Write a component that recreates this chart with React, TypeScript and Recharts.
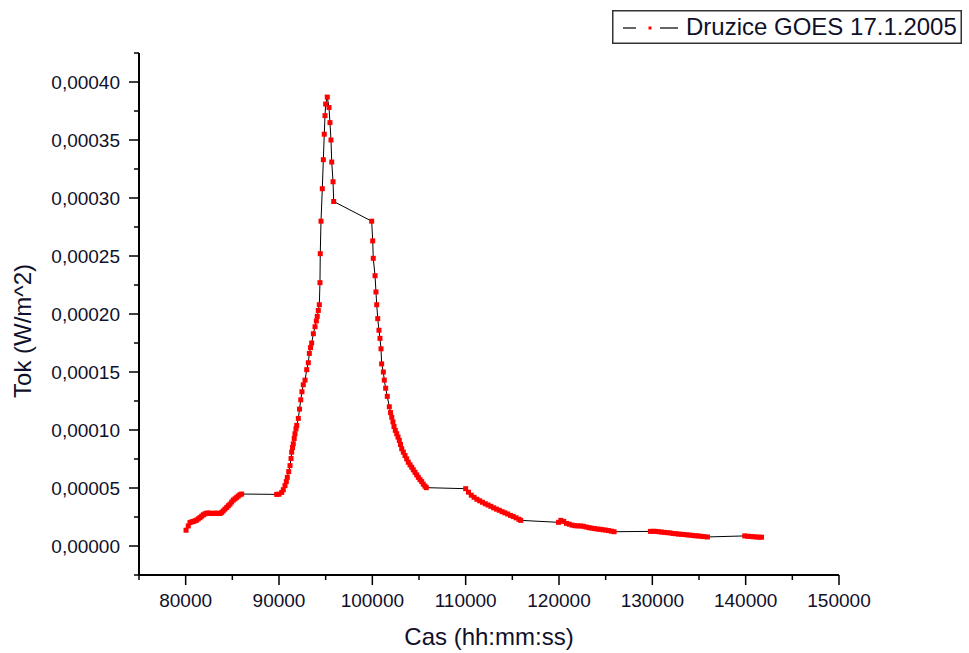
import { LineChart, Line, XAxis, YAxis, Legend, Label } from 'recharts';

const FONT = '"Liberation Sans", Arial, sans-serif';
const TEXT = '#10102a';
const MARKER = '#ff0000';

// tick positions (major ones get a label)
const xTicks = [75000, 80000, 85000, 90000, 95000, 100000, 105000, 110000, 115000, 120000, 125000, 130000, 135000, 140000, 145000, 150000];
const yTicks = [
  -0.000025, 0, 0.000025, 0.00005, 0.000075, 0.0001, 0.000125, 0.00015, 0.000175, 0.0002,
  0.000225, 0.00025, 0.000275, 0.0003, 0.000325, 0.00035, 0.000375, 0.0004, 0.000425,
];

// [cas (s), tok (W/m^2)], one array per run of samples
const preFlare: [number, number][] = [
  [80040, 1.36e-5], [80280, 1.73e-5], [80460, 2.02e-5], [80650, 2.08e-5], [80820, 2.11e-5],
  [81000, 2.17e-5], [81180, 2.23e-5], [81350, 2.34e-5], [81540, 2.45e-5], [81720, 2.57e-5],
  [81890, 2.69e-5], [82070, 2.77e-5], [82250, 2.83e-5], [82430, 2.83e-5], [82610, 2.83e-5],
  [82790, 2.8e-5], [82960, 2.8e-5], [83140, 2.83e-5], [83330, 2.83e-5], [83500, 2.8e-5],
  [83680, 2.8e-5], [83860, 2.9e-5], [84030, 3.03e-5], [84210, 3.18e-5], [84400, 3.32e-5],
  [84570, 3.47e-5], [84750, 3.61e-5], [84930, 3.79e-5], [85100, 3.96e-5], [85290, 4.07e-5],
  [85470, 4.19e-5], [85640, 4.31e-5], [85820, 4.42e-5], [86000, 4.48e-5],
];

const rise: [number, number][] = [
  [89750, 4.45e-5], [90000, 4.46e-5], [90290, 4.62e-5], [90460, 4.85e-5], [90640, 5.2e-5],
  [90780, 5.55e-5], [90890, 5.92e-5], [91040, 6.41e-5], [91180, 6.93e-5], [91290, 7.54e-5],
  [91360, 8.09e-5], [91450, 8.49e-5], [91530, 8.81e-5], [91630, 9.27e-5], [91710, 9.68e-5],
  [91820, 1.01e-4], [91900, 1.04e-4], [92070, 1.1e-4], [92200, 1.18e-4], [92330, 1.26e-4],
  [92460, 1.33e-4], [92600, 1.39e-4], [92790, 1.43e-4], [92970, 1.52e-4], [93140, 1.58e-4],
  [93250, 1.66e-4], [93380, 1.71e-4], [93500, 1.75e-4], [93680, 1.83e-4], [93860, 1.89e-4],
  [94000, 1.94e-4], [94100, 1.98e-4], [94210, 2.03e-4], [94320, 2.08e-4], [94390, 2.27e-4],
  [94420, 2.52e-4], [94500, 2.8e-4], [94640, 3.08e-4], [94750, 3.33e-4], [94850, 3.55e-4],
  [94930, 3.71e-4], [95000, 3.81e-4], [95170, 3.87e-4], [95360, 3.78e-4], [95460, 3.65e-4],
  [95570, 3.5e-4], [95650, 3.31e-4], [95790, 3.14e-4], [95860, 2.97e-4],
];

const decay: [number, number][] = [
  [99930, 2.8e-4], [100040, 2.63e-4], [100100, 2.48e-4], [100290, 2.33e-4], [100390, 2.19e-4],
  [100470, 2.08e-4], [100580, 1.96e-4], [100710, 1.86e-4], [100820, 1.79e-4], [100930, 1.7e-4],
  [101000, 1.57e-4], [101180, 1.5e-4], [101280, 1.43e-4], [101430, 1.36e-4], [101600, 1.29e-4],
  [101820, 1.2e-4], [101950, 1.15e-4], [102080, 1.11e-4], [102210, 1.07e-4], [102320, 1.03e-4],
  [102460, 9.97e-5], [102610, 9.68e-5], [102750, 9.39e-5], [102890, 9.1e-5], [103020, 8.75e-5],
  [103150, 8.38e-5], [103320, 8.09e-5], [103500, 7.8e-5], [103680, 7.51e-5], [103850, 7.22e-5],
  [104040, 7.0e-5], [104220, 6.79e-5], [104390, 6.57e-5], [104570, 6.35e-5], [104750, 6.13e-5],
  [104930, 5.92e-5], [105110, 5.72e-5], [105290, 5.55e-5], [105460, 5.33e-5], [105640, 5.16e-5],
  [105780, 5.03e-5],
];

const tail1: [number, number][] = [
  [110000, 4.94e-5], [110300, 4.64e-5], [110600, 4.38e-5], [110900, 4.2e-5], [111200, 4.03e-5],
  [111500, 3.9e-5], [111800, 3.77e-5], [112100, 3.64e-5], [112400, 3.53e-5], [112700, 3.42e-5],
  [113000, 3.29e-5], [113300, 3.18e-5], [113600, 3.08e-5], [113900, 2.96e-5], [114200, 2.86e-5],
  [114500, 2.76e-5], [114800, 2.64e-5], [115100, 2.54e-5], [115400, 2.43e-5], [115700, 2.3e-5],
  [115900, 2.21e-5],
];

const tail2: [number, number][] = [
  [119950, 2.04e-5], [120200, 2.21e-5], [120500, 2.12e-5], [120800, 1.95e-5], [121100, 1.88e-5],
  [121400, 1.8e-5], [121700, 1.75e-5], [122000, 1.73e-5], [122300, 1.73e-5], [122600, 1.7e-5],
  [122900, 1.64e-5], [123200, 1.58e-5], [123500, 1.54e-5], [123800, 1.5e-5], [124100, 1.46e-5],
  [124400, 1.44e-5], [124700, 1.4e-5], [125000, 1.37e-5], [125300, 1.33e-5], [125600, 1.28e-5],
  [125900, 1.23e-5],
];

const tail3: [number, number][] = [
  [129800, 1.26e-5], [130100, 1.27e-5], [130400, 1.26e-5], [130700, 1.23e-5], [131000, 1.2e-5],
  [131300, 1.17e-5], [131600, 1.15e-5], [131900, 1.13e-5], [132200, 1.08e-5], [132500, 1.06e-5],
  [132800, 1.03e-5], [133100, 1.01e-5], [133400, 9.9e-6], [133700, 9.6e-6], [134000, 9.4e-6],
  [134300, 9.1e-6], [134600, 8.8e-6], [134900, 8.7e-6], [135200, 8.4e-6], [135500, 8.1e-6],
  [135900, 7.8e-6],
];

const tail4: [number, number][] = [
  [139900, 8.7e-6], [140200, 8.4e-6], [140500, 8.2e-6], [140800, 8.0e-6], [141100, 7.8e-6],
  [141400, 7.6e-6], [141700, 7.6e-6],
];

const data = [...preFlare, ...rise, ...decay, ...tail1, ...tail2, ...tail3, ...tail4].map(([cas, tok]) => ({ cas, tok }));

function XTick({ x, y, payload }: any) {
  const v = payload.value as number;
  const major = v % 10000 === 0;
  return (
    <g>
      <line x1={x} x2={x} y1={y} y2={y + (major ? 10 : 5)} stroke="#000" strokeWidth={1.5} />
      {major && (
        <text x={x} y={y + 32} textAnchor="middle" fontSize={19} fontFamily={FONT} fill={TEXT}>
          {v}
        </text>
      )}
    </g>
  );
}

function YTick({ x, y, payload }: any) {
  const v = payload.value as number;
  const major = Math.round(v / 0.000025) % 2 === 0;
  return (
    <g>
      <line x1={x} x2={x - (major ? 10 : 5)} y1={y} y2={y} stroke="#000" strokeWidth={1.5} />
      {major && (
        <text x={x - 19} y={y + 6.5} textAnchor="end" fontSize={19} fontFamily={FONT} fill={TEXT}>
          {v.toFixed(5).replace('.', ',')}
        </text>
      )}
    </g>
  );
}

function LegendBox() {
  return (
    <svg width={350} height={34} style={{ display: 'block' }}>
      <rect x={0.75} y={0.75} width={348.5} height={32.5} fill="#fff" stroke="#333" strokeWidth={1.5} />
      <line x1={11} x2={24} y1={18} y2={18} stroke="#000" strokeWidth={1.2} />
      <rect x={36.5} y={16.5} width={3} height={3} fill={MARKER} />
      <line x1={48} x2={66} y1={18} y2={18} stroke="#000" strokeWidth={1.2} />
      <text x={74} y={25} fontSize={24} fontFamily={FONT} fill={TEXT}>
        Druzice GOES 17.1.2005
      </text>
    </svg>
  );
}

const renderDot = (p: any) => (
  <rect key={`d-${p.index}`} x={p.cx - 2.5} y={p.cy - 2.5} width={5} height={5} fill={MARKER} />
);

export default function App() {
  return (
    <div style={{ position: 'absolute', left: 0, top: 0, width: 969, height: 653, background: '#fff' }}>
      <LineChart width={969} height={653} data={data} margin={{ top: 53, right: 130, bottom: 48, left: 79 }}>
        <XAxis
          dataKey="cas"
          type="number"
          domain={[75000, 150000]}
          ticks={xTicks}
          interval={0}
          tickSize={0}
          tickMargin={0}
          tickLine={false}
          tick={XTick}
          height={30}
          axisLine={{ stroke: '#000', strokeWidth: 2 }}
          allowDataOverflow
        >
          <Label
            content={(props: any) => {
              const vb = props.viewBox;
              return (
                <text x={vb.x + vb.width / 2} y={vb.y + 70} textAnchor="middle" fontSize={24} fontFamily={FONT} fill={TEXT}>
                  Cas (hh:mm:ss)
                </text>
              );
            }}
          />
        </XAxis>
        <YAxis
          type="number"
          domain={[-0.000025, 0.000425]}
          ticks={yTicks}
          interval={0}
          tickSize={0}
          tickMargin={0}
          tickLine={false}
          tick={YTick}
          width={60}
          axisLine={{ stroke: '#000', strokeWidth: 2 }}
          allowDataOverflow
        >
          <Label
            content={(props: any) => {
              const vb = props.viewBox;
              const cy = vb.y + vb.height / 2 + 17;
              return (
                <text x={31} y={cy} transform={`rotate(-90 31 ${cy})`} textAnchor="middle" fontSize={24} fontFamily={FONT} fill={TEXT}>
                  Tok (W/m^2)
                </text>
              );
            }}
          />
        </YAxis>
        <Legend
          layout="horizontal"
          verticalAlign="middle"
          align="center"
          wrapperStyle={{ left: 612, top: 10, width: 350, height: 34 }}
          content={() => <LegendBox />}
        />
        <Line
          type="linear"
          dataKey="tok"
          stroke="#000"
          strokeWidth={1}
          dot={renderDot}
          activeDot={false}
          isAnimationActive={false}
        />
      </LineChart>
    </div>
  );
}
